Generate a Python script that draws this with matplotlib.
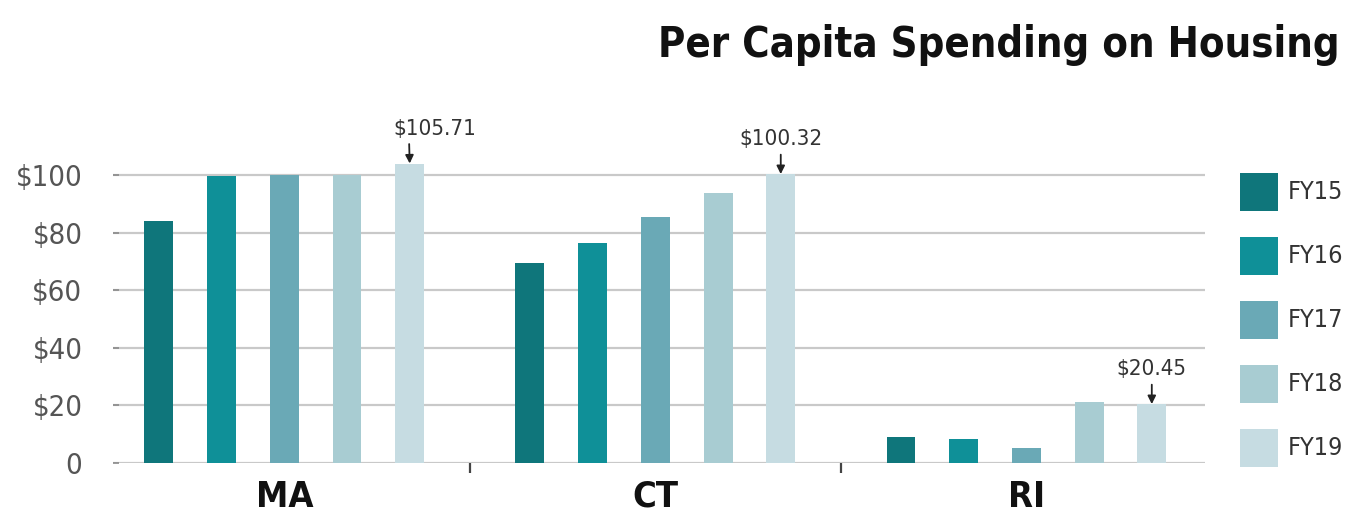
import matplotlib
matplotlib.use("Agg")
import matplotlib.pyplot as plt
from matplotlib.patches import Rectangle
import numpy as np

plt.rcParams['font.family'] = ['DejaVu Sans']
plt.rcParams['font.stretch'] = 'condensed'

# Data
states = ["MA", "CT", "RI"]
years = ["FY15", "FY16", "FY17", "FY18", "FY19"]
fy15 = [84.0, 69.5, 9.0]
fy16 = [99.8, 76.5, 8.3]
fy17 = [100.1, 85.5, 5.2]
fy18 = [99.9, 93.8, 21.2]
fy19 = [105.71, 100.32, 20.45]
yticks = [0, 20, 40, 60, 80, 100]
ytick_labels = ["0", "$20", "$40", "$60", "$80", "$100"]
callout_labels = ["$105.71", "$100.32", "$20.45"]

series = [fy15, fy16, fy17, fy18, fy19]
colors = ["#0f767b", "#0f9098", "#6aa9b6", "#a8ccd2", "#c6dce2"]

W, H = 1356, 515
fig = plt.figure(figsize=(W / 100, H / 100), dpi=100)
ax = fig.add_axes([113 / W, 52 / H, (1205 - 113) / W, (463 - 163.5) / H])

x = np.arange(len(states))
step = 0.169
width = 0.078
ytop = 104
for i, (vals, c) in enumerate(zip(series, colors)):
    ax.bar(x + (i - 2) * step, vals, width=width, color=c, zorder=3)

ax.set_xlim(-0.4617, 2.4814)
ax.set_ylim(0, ytop)

# Grid and ticks
ax.set_yticks(yticks)
ax.set_yticklabels(ytick_labels)
ax.yaxis.grid(True, color="#c9c9c9", linewidth=1.6, zorder=0)
ax.tick_params(axis="y", length=4, width=1.2, color="#8a8a8a", direction="in",
               labelsize=21, labelcolor="#555555", pad=22)
for s in ax.spines.values():
    s.set_visible(False)

ax.set_xticks(x)
ax.set_xticklabels(states, fontsize=26, fontweight="bold", color="#111111")
ax.tick_params(axis="x", which="major", length=0, pad=12)
ax.set_xticks([0.5, 1.5], minor=True)
ax.tick_params(axis="x", which="minor", length=7, width=1.6, color="#444444")

# Value callouts on the FY19 bars
dx = [18, 0, 0]
for xi, v, lab, ox in zip(x, fy19, callout_labels, dx):
    xb = xi + 2 * step
    ax.annotate(lab, xy=(xb, min(v, ytop)), xytext=(ox, 18),
                textcoords="offset points", ha="center", va="bottom",
                fontsize=16, color="#333333", annotation_clip=False,
                arrowprops=dict(arrowstyle="-|>,head_length=0.3,head_width=0.15",
                                color="#222222", lw=1.3,
                                shrinkA=2, shrinkB=0,
                                relpos=(0.5 - ox / 58.0, 0.0)))

# Legend: square swatches with labels, stacked down the right side
sw = 38
for i, (c, y) in enumerate(zip(colors, years)):
    top = 173 + 64 * i
    fig.add_artist(Rectangle((1240 / W, 1 - (top + sw) / H), sw / W, sw / H,
                             transform=fig.transFigure, facecolor=c,
                             edgecolor="none"))
    fig.text(1288 / W, 1 - (top + sw / 2) / H, y, ha="left", va="center",
             fontsize=18, color="#333333")

fig.text(1340 / W, 1 - 57 / H, "Per Capita Spending on Housing", ha="right",
         va="baseline", fontsize=30, fontweight="bold", color="#111111")

fig.savefig("out.png", dpi=100)
